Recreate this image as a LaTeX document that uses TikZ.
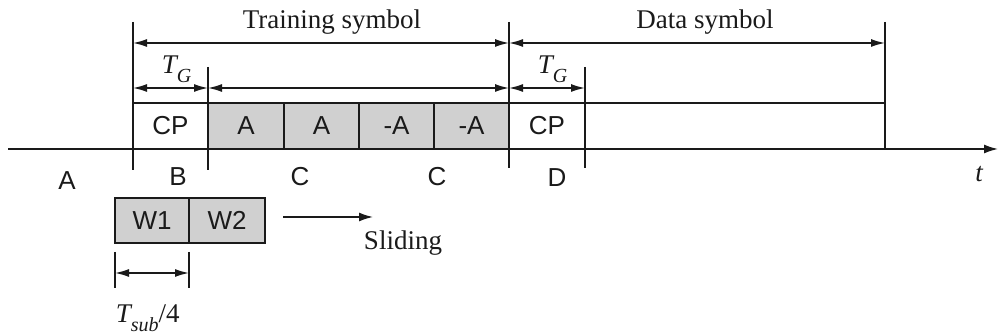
\documentclass[tikz,border=0pt]{standalone}
\usepackage{fontspec}
\setmainfont{Liberation Serif}
\setsansfont{Liberation Sans}
\usetikzlibrary{arrows.meta}
\definecolor{boxgray}{HTML}{D0D0D0}
\definecolor{ink}{HTML}{1A1A1A}
\newcommand{\subsc}[1]{\kern-1.5pt\raisebox{-9pt}{\fontsize{20}{20}\selectfont\textit{#1}}}
\begin{document}
\begin{tikzpicture}[x=1pt,y=-1pt,line width=1.5pt,draw=ink,
  seg/.style={draw=ink,minimum height=46pt,inner sep=0pt,outer sep=0pt,font=\sffamily\fontsize{26}{26}\selectfont,text=ink},
  gseg/.style={seg,fill=boxgray},
  lbl/.style={font=\sffamily\fontsize{26}{26}\selectfont,inner sep=0pt,text=ink},
  ser/.style={font=\fontsize{27}{27}\selectfont,inner sep=0pt,text=ink},
  dimarrow/.style={{Latex[length=14pt,width=8pt]}-{Latex[length=14pt,width=8pt]}},
  onearrow/.style={-{Latex[length=14pt,width=9pt]}}]
\useasboundingbox (0,0) rectangle (998,336);
% segments
\node[seg,minimum width=75pt] (cp1) at (170.5,126) {CP};
\node[gseg,minimum width=76pt] (a1) at (246,126) {A};
\node[gseg,minimum width=75pt] (a2) at (321.5,126) {A};
\node[gseg,minimum width=75pt] (a3) at (396.5,126) {-A};
\node[gseg,minimum width=75pt] (a4) at (471.5,126) {-A};
\node[seg,minimum width=76pt] (cp2) at (547,126) {CP};
\node[seg,minimum width=300pt] (data) at (735,126) {};
% time axis
\coordinate (ax0) at (8,149);
\coordinate (ax1) at (998,149);
\draw[ink,onearrow] (ax0) -- (ax1);
\node[ser,font=\fontsize{27}{27}\selectfont\itshape] (t) at (979,174) {t};
% vertical marks
\coordinate (v0t) at (133,22); \coordinate (v0b) at (133,170);
\coordinate (v1t) at (208,67); \coordinate (v1b) at (208,170);
\coordinate (v2t) at (509,22); \coordinate (v2b) at (509,168);
\coordinate (v3t) at (585,67); \coordinate (v3b) at (585,168);
\coordinate (v4t) at (885,22); \coordinate (v4b) at (885,149);
\draw[ink] (v0t) -- (v0b);
\draw[ink] (v1t) -- (v1b);
\draw[ink] (v2t) -- (v2b);
\draw[ink] (v3t) -- (v3b);
\draw[ink] (v4t) -- (v4b);
% dimension arrows
\coordinate (ts0) at (133,43); \coordinate (ts1) at (509,43); \coordinate (ds1) at (885,43);
\draw[ink,dimarrow] (ts0) -- (ts1);
\draw[ink,dimarrow] (ts1) -- (ds1);
\coordinate (g0) at (133,88); \coordinate (g1) at (208,88);
\coordinate (g2) at (509,88); \coordinate (g3) at (585,88);
\draw[ink,dimarrow] (g0) -- (g1);
\draw[ink,dimarrow] (g1) -- (g2);
\draw[ink,dimarrow] (g2) -- (g3);
\node[ser,anchor=base] (tsl) at (332,29) {Training symbol};
\node[ser,anchor=base] (dsl) at (705,29) {Data symbol};
\node[ser,anchor=base west] (tg1) at (161,74) {\textit{T}\subsc{G}};
\node[ser,anchor=base west] (tg2) at (537,74) {\textit{T}\subsc{G}};
% region labels
\node[lbl] (la) at (67,181) {A};
\node[lbl] (lb) at (178,177) {B};
\node[lbl] (lc1) at (300,177) {C};
\node[lbl] (lc2) at (437,177) {C};
\node[lbl] (ld) at (557,178) {D};
% sliding window
\node[gseg,minimum width=74pt,minimum height=45pt] (w1) at (152,220.5) {W1};
\node[gseg,minimum width=76pt,minimum height=45pt] (w2) at (227,220.5) {W2};
\coordinate (s0) at (283,217); \coordinate (s1) at (373,217);
\draw[ink,onearrow] (s0) -- (s1);
\node[ser,anchor=base] (sl) at (403,250) {Sliding};
% T_sub/4
\coordinate (u0t) at (115,252); \coordinate (u0b) at (115,288);
\coordinate (u1t) at (189,252); \coordinate (u1b) at (189,288);
\draw[ink] (u0t) -- (u0b);
\draw[ink] (u1t) -- (u1b);
\coordinate (u0) at (115,273); \coordinate (u1) at (189,273);
\draw[ink,dimarrow] (u0) -- (u1);
\node[ser,anchor=base west] (tsub) at (115,323) {\textit{T}\subsc{sub}/4};
\end{tikzpicture}
\end{document}
